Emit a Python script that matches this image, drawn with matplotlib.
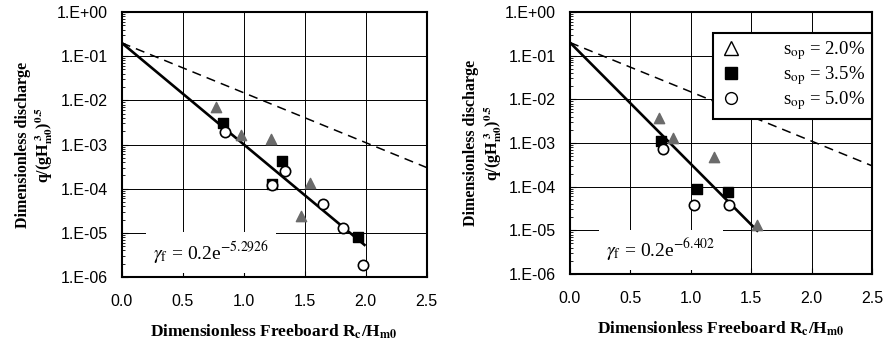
import numpy as np
import matplotlib.pyplot as plt
from matplotlib.lines import Line2D

plt.rcParams['mathtext.fontset'] = 'stix'

# left panel (fitted coefficient 5.2926)
tri_x_l = [0.77, 0.98, 1.22, 1.54, 1.47]
tri_y_l = [6.9e-3, 1.6e-3, 1.36e-3, 1.35e-4, 2.35e-5]
sq_x_l = [0.83, 1.23, 1.31, 1.94]
sq_y_l = [3.1e-3, 1.3e-4, 4.3e-4, 8.1e-6]
circ_x_l = [0.85, 1.23, 1.34, 1.65, 1.81, 1.98]
circ_y_l = [1.87e-3, 1.24e-4, 2.5e-4, 4.4e-5, 1.29e-5, 1.83e-6]

# right panel (fitted coefficient 6.402)
tri_x_r = [0.74, 0.85, 1.19, 1.55]
tri_y_r = [3.76e-3, 1.30e-3, 4.7e-4, 1.31e-5]
sq_x_r = [0.75, 1.05, 1.31]
sq_y_r = [1.13e-3, 8.7e-5, 7.7e-5]
circ_x_r = [0.77, 1.03, 1.32]
circ_y_r = [7.3e-4, 3.8e-5, 3.85e-5]

coef_a = 0.2
coef_dash = 2.6
coef_l = 5.2926
coef_r = 6.402
fit_end_l = 1.99
fit_end_r = 1.55

yticks = [1e0, 1e-1, 1e-2, 1e-3, 1e-4, 1e-5, 1e-6]
ytick_labels = ['1.E+00', '1.E-01', '1.E-02', '1.E-03', '1.E-04', '1.E-05', '1.E-06']
xticks = [0.0, 0.5, 1.0, 1.5, 2.0, 2.5]

serif = 'Liberation Serif'
sans = 'Liberation Sans'
grey = '#6b6b6b'


def draw_panel(ax, tri, sq, circ, coef, x_end, label, text_x):
    ax.set_yscale('log')
    ax.set_xlim(0, 2.5)
    ax.set_ylim(1e-6, 1e0)
    ax.grid(True, which='major', color='black', lw=0.7)
    ax.set_axisbelow(True)

    xd = np.linspace(0, 2.5, 100)
    ax.plot(xd, coef_a * np.exp(-coef_dash * xd), ls=(0, (6, 4)), color='black', lw=1.1, zorder=3)
    xs = np.linspace(0, x_end, 100)
    ax.plot(xs, coef_a * np.exp(-coef * xs), color='black', lw=1.9, zorder=3)

    ax.scatter(tri[0], tri[1], marker='^', s=55, color=grey, edgecolors=grey, zorder=4)
    ax.scatter(sq[0], sq[1], marker='s', s=45, color='black', zorder=5)
    ax.scatter(circ[0], circ[1], marker='o', s=55, facecolors='white', edgecolors='black', lw=1.2, zorder=6)

    ax.text(text_x, 2.5e-6, label, fontsize=14, family=serif, zorder=7,
            bbox=dict(facecolor='white', edgecolor='none', pad=5))

    ax.set_yticks(yticks)
    ax.set_yticklabels(ytick_labels, family=sans, fontsize=11.5)
    ax.set_xticks(xticks)
    ax.set_xticklabels([f'{v:.1f}' for v in xticks], family=sans, fontsize=11.5)
    ax.tick_params(which='both', direction='in', top=False, right=False)
    ax.tick_params(axis='y', which='major', length=4, pad=10)
    ax.tick_params(axis='x', which='major', length=4, pad=12)
    ax.tick_params(which='minor', length=2.5)
    for sp in ax.spines.values():
        sp.set_linewidth(1.5)

    ax.set_ylabel('Dimensionless discharge\n'
                  + r'q/(gH$_{\mathbf{m0}}^{\ \mathbf{3}}$)$^{\mathbf{0.5}}$',
                  family=serif, fontweight='bold', fontsize=11.5, labelpad=1, linespacing=1.2)
    ax.set_xlabel(r'Dimensionless Freeboard R$_{\mathbf{c}}$/H$_{\mathbf{m0}}$',
                  family=serif, fontweight='bold', fontsize=12.5, labelpad=10)


fig = plt.figure(figsize=(8.86, 3.43), dpi=100)
ax1 = fig.add_axes([0.1374, 0.1924, 0.3442, 0.7726])
ax2 = fig.add_axes([0.6433, 0.2012, 0.3409, 0.7638])

draw_panel(ax1, (tri_x_l, tri_y_l), (sq_x_l, sq_y_l), (circ_x_l, circ_y_l),
           coef_l, fit_end_l, r'$\gamma_{\rm f}$ = 0.2e$^{-5.2926}$', 0.26)
draw_panel(ax2, (tri_x_r, tri_y_r), (sq_x_r, sq_y_r), (circ_x_r, circ_y_r),
           coef_r, fit_end_r, r'$\gamma_{\rm f}$ = 0.2e$^{-6.402}$', 0.30)

handles = [
    Line2D([], [], ls='none', marker='^', markersize=10, markerfacecolor='white', markeredgecolor='black'),
    Line2D([], [], ls='none', marker='s', markersize=8, color='black'),
    Line2D([], [], ls='none', marker='o', markersize=8.5, markerfacecolor='white', markeredgecolor='black'),
]
labels = [r's$_{\rm op}$ = 2.0%', r's$_{\rm op}$ = 3.5%', r's$_{\rm op}$ = 5.0%']
leg = ax2.legend(handles, labels, loc='upper right', bbox_to_anchor=(1.0, 0.92),
                 prop={'family': serif, 'size': 13.5}, frameon=True, fancybox=False,
                 framealpha=1, edgecolor='black', handletextpad=2.2, borderpad=0.35,
                 labelspacing=0.1, borderaxespad=0, handlelength=1.2)
leg.get_frame().set_linewidth(1.5)
leg.set_zorder(8)

fig.savefig('out.png', dpi=100)
